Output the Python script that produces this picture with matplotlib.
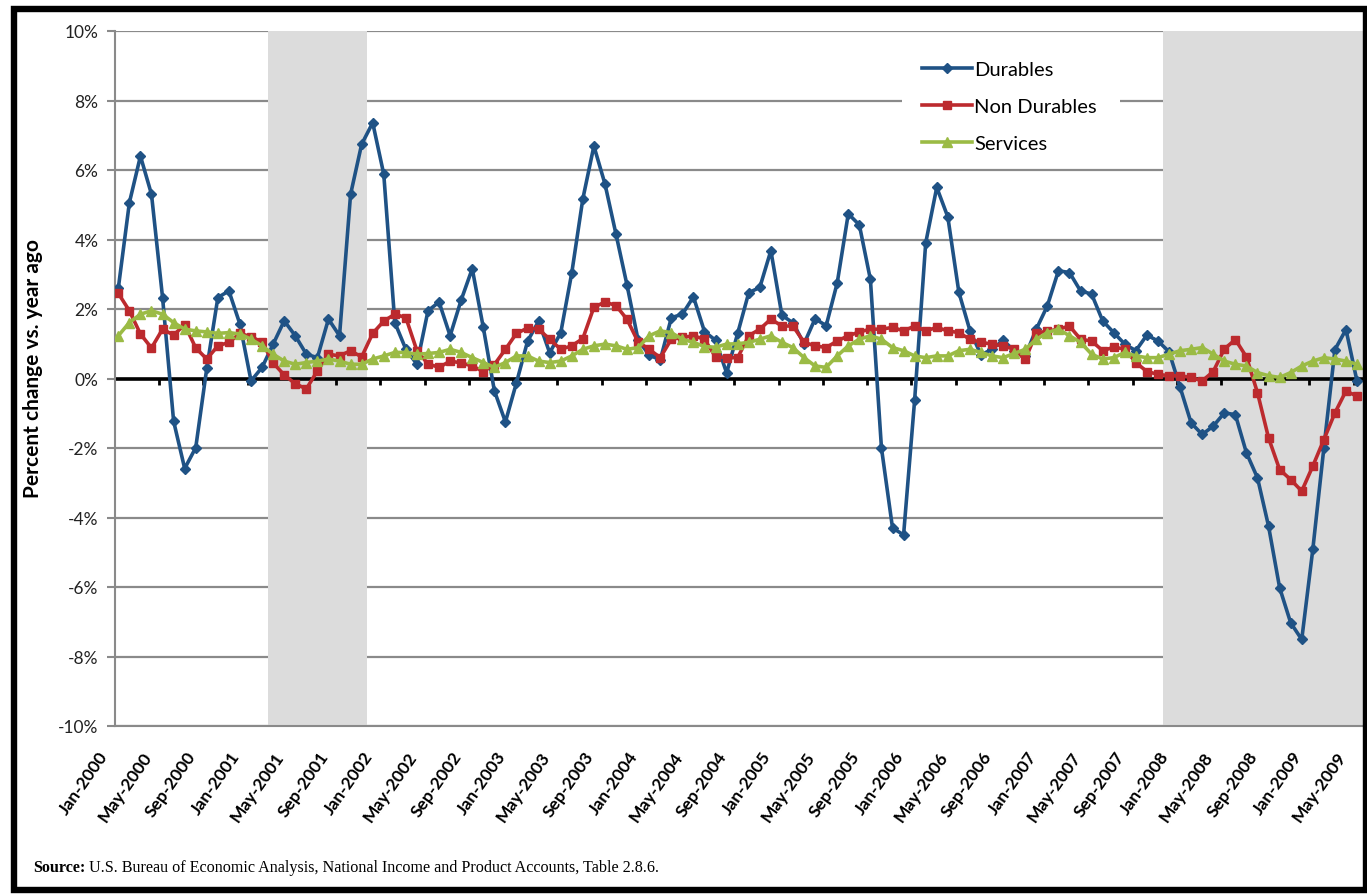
import matplotlib.pyplot as plt
import numpy as np
import pandas as pd
from matplotlib.patches import Rectangle
from matplotlib.transforms import ScaledTranslation

plt.rcParams['font.family'] = ['Lato', 'DejaVu Sans']

# monthly data, Jan 2000 .. May 2009 (percent change vs. year ago)
months = pd.date_range('2000-01-01', periods=113, freq='MS')

durables = [2.6, 5.06, 6.4, 5.3, 2.33, -1.23, -2.59, -1.99, 0.3, 2.33,
            2.52, 1.56, -0.07, 0.32, 0.99, 1.66, 1.23, 0.7, 0.6, 1.71,
            1.23, 5.3, 6.74, 7.36, 5.88, 1.61, 0.84, 0.41, 1.95, 2.2,
            1.23, 2.26, 3.16, 1.47, -0.35, -1.25, -0.12, 1.07, 1.65, 0.74,
            1.31, 3.04, 5.17, 6.69, 5.6, 4.15, 2.68, 1.1, 0.68, 0.53,
            1.75, 1.85, 2.35, 1.35, 1.1, 0.16, 1.3, 2.47, 2.62, 3.68,
            1.82, 1.6, 1.0, 1.72, 1.52, 2.75, 4.74, 4.42, 2.85, -2.0,
            -4.3, -4.5, -0.62, 3.9, 5.5, 4.65, 2.48, 1.38, 0.68, 0.84,
            1.1, 0.8, 0.65, 1.42, 2.09, 3.1, 3.05, 2.52, 2.43, 1.66,
            1.32, 0.99, 0.8, 1.25, 1.08, 0.77, -0.25, -1.28, -1.61, -1.37,
            -0.99, -1.04, -2.14, -2.86, -4.25, -6.02, -7.03, -7.51, -4.92, -2.0,
            0.83, 1.41, -0.08]

non_durables = [2.45, 1.95, 1.28, 0.88, 1.42, 1.25, 1.55, 0.88, 0.56, 0.94,
                1.04, 1.3, 1.2, 1.05, 0.45, 0.1, -0.15, -0.3, 0.22, 0.7,
                0.65, 0.8, 0.62, 1.3, 1.65, 1.85, 1.75, 0.8, 0.42, 0.32,
                0.5, 0.45, 0.36, 0.2, 0.4, 0.84, 1.3, 1.45, 1.42, 1.13,
                0.84, 0.94, 1.15, 2.05, 2.2, 2.1, 1.7, 1.05, 0.84, 0.6,
                1.13, 1.18, 1.23, 1.13, 0.62, 0.6, 0.6, 1.23, 1.42, 1.71,
                1.51, 1.51, 1.04, 0.94, 0.89, 1.08, 1.23, 1.34, 1.42, 1.42,
                1.47, 1.37, 1.51, 1.37, 1.47, 1.37, 1.32, 1.13, 1.04, 0.99,
                0.94, 0.84, 0.55, 1.31, 1.36, 1.42, 1.51, 1.13, 1.08, 0.8,
                0.9, 0.85, 0.46, 0.2, 0.12, 0.08, 0.08, 0.03, -0.07, 0.2,
                0.85, 1.12, 0.62, -0.41, -1.71, -2.62, -2.91, -3.24, -2.52, -1.76,
                -0.99, -0.36, -0.51]

services = [1.23, 1.61, 1.85, 1.95, 1.85, 1.61, 1.42, 1.37, 1.34, 1.3,
            1.32, 1.28, 1.13, 0.94, 0.7, 0.5, 0.41, 0.46, 0.5, 0.56,
            0.5, 0.41, 0.41, 0.56, 0.65, 0.75, 0.75, 0.7, 0.72, 0.75,
            0.84, 0.75, 0.6, 0.46, 0.32, 0.46, 0.65, 0.65, 0.5, 0.46,
            0.5, 0.65, 0.84, 0.94, 0.99, 0.94, 0.84, 0.89, 1.23, 1.37,
            1.32, 1.13, 1.04, 0.92, 0.9, 0.99, 1.0, 1.04, 1.13, 1.23,
            1.04, 0.89, 0.6, 0.36, 0.32, 0.65, 0.94, 1.13, 1.23, 1.13,
            0.89, 0.8, 0.65, 0.6, 0.65, 0.65, 0.8, 0.84, 0.75, 0.65,
            0.6, 0.72, 0.84, 1.13, 1.32, 1.42, 1.23, 1.04, 0.7, 0.56,
            0.6, 0.75, 0.65, 0.6, 0.6, 0.7, 0.8, 0.84, 0.89, 0.7,
            0.5, 0.41, 0.36, 0.17, 0.08, 0.03, 0.17, 0.36, 0.5, 0.6,
            0.56, 0.5, 0.41]

# NBER recessions (first and last month)
recessions = [('2001-03', '2001-11'), ('2007-12', '2009-06')]

yticks = list(range(-10, 11, 2))
source = 'U.S. Bureau of Economic Analysis, National Income and Product Accounts, Table 2.8.6.'


def month_index(s):
    t = pd.Timestamp(s)
    return (t.year - months[0].year) * 12 + t.month - months[0].month


W, H = 1367, 895
fig = plt.figure(figsize=(W / 100, H / 100), dpi=100)
fig.patch.set_facecolor('white')

# one month = 11.06 px, axes runs off the right edge like the original crop
x = np.arange(len(months))
ax = fig.add_axes([115 / W, 1 - 727 / H, 11.06 * 113.8 / W, (727 - 32) / H])
ax.set_xlim(-0.3, 113.5)
ax.set_ylim(-10, 10)

# recession shading
for start, end in recessions:
    ax.axvspan(month_index(start) - 0.5, month_index(end) + 0.5,
               color='#DCDCDC', lw=0, zorder=1)

# white box behind the legend
ax.add_patch(Rectangle((902 / W, 1 - 164 / H), 218 / W, 120 / H,
                       transform=fig.transFigure, facecolor='white',
                       edgecolor='none', zorder=1))

# gridlines
ax.set_axisbelow(True)
ax.grid(axis='y', color='#8A8A8A', lw=1.6)
ax.set_yticks(yticks)
ax.set_yticklabels([f'{v}%' for v in yticks], fontsize=12.5, color='#222222')
ax.tick_params(axis='y', length=6, width=1.5, color='#8A8A8A', pad=6)

for side in ['top', 'right']:
    ax.spines[side].set_visible(False)
for side in ['left', 'bottom']:
    ax.spines[side].set_color('#8A8A8A')
    ax.spines[side].set_linewidth(1.5)

# zero line with the category tick marks
ax.axhline(0, color='black', lw=2.6, zorder=2.5)
ax.vlines(np.arange(-0.3, len(months), 4)[1:], -0.18, 0, color='black', lw=2, zorder=2.5)

# series
ax.plot(x, durables, color='#1F5285', lw=2.6, marker='D', ms=5.5, zorder=3, label='Durables')
ax.plot(x, non_durables, color='#BC2A2E', lw=2.6, marker='s', ms=5.5, zorder=4, label='Non Durables')
ax.plot(x, services, color='#9BBB45', lw=2.6, marker='^', ms=6.5, zorder=5, label='Services')

# x labels every 4 months
ax.set_xticks(x[::4])
ax.set_xticklabels([m.strftime('%b-%Y') for m in months[::4]], rotation=55,
                   ha='right', va='top', rotation_mode='anchor',
                   fontsize=12.5, fontweight='bold')
ax.tick_params(axis='x', length=0, pad=16)
for lab in ax.get_xticklabels():
    lab.set_transform(lab.get_transform() + ScaledTranslation(-0.21, 0, fig.dpi_scale_trans))

leg = ax.legend(loc='upper left', bbox_to_anchor=(922 / W, 1 - 62 / H),
                bbox_transform=fig.transFigure, frameon=False, fontsize=14.5,
                handlelength=2.5, handletextpad=0.1, labelspacing=0.98,
                borderpad=0, borderaxespad=0)

fig.text(33 / W, 1 - 368 / H, 'Percent change vs. year ago', rotation=90,
         ha='center', va='center', fontsize=15, fontweight='bold')

t1 = fig.text(33 / W, 1 - 876 / H, 'Source:', fontsize=11.6, fontweight='bold',
              family='Liberation Serif', ha='left', va='bottom')
ax.annotate(' ' + source, xy=(1, 0), xycoords=t1, ha='left', va='bottom',
            fontsize=11.6, family='Liberation Serif', annotation_clip=False)

# black frame around the picture
fig.add_artist(Rectangle((13.5 / W, 1 - 891 / H), (1366 - 13.5) / W, (891 - 10) / H,
                         transform=fig.transFigure, fill=False,
                         edgecolor='black', lw=4.6, zorder=10))

fig.savefig('out.png', dpi=100)
